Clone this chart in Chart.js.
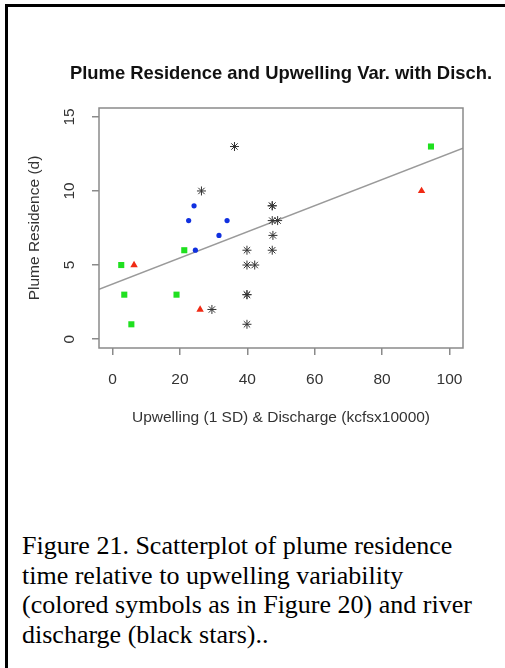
<!DOCTYPE html>
<html>
<head>
<meta charset="utf-8">
<script src="https://cdn.jsdelivr.net/npm/chart.js@4.4.1/dist/chart.umd.min.js"></script>
<style>
  html, body { margin: 0; padding: 0; background: #fff; }
  body { width: 505px; height: 668px; position: relative; overflow: hidden; }
  #frame { position: absolute; left: 5px; top: 4px; width: 520px; height: 700px;
           border-top: 3px solid #000; border-left: 3px solid #000; }
  #wrap { position: absolute; left: 0; top: 0; width: 505px; height: 460px; }
  #caption { position: absolute; left: 22px; top: 531px; width: 480px;
             font-family: "Liberation Serif", "Times New Roman", serif; font-size: 26px;
             line-height: 29.7px; color: #000; white-space: nowrap; }
</style>
</head>
<body>
<div id="frame"></div>
<div id="wrap"><canvas id="c" width="505" height="460"></canvas></div>
<div id="caption">Figure 21. Scatterplot of plume residence<br>time relative to upwelling variability<br>(colored symbols as in Figure 20) and river<br>discharge (black stars)..</div>
<script>
// ---- data ----
const titleText = "Plume Residence and Upwelling Var. with Disch.";
const xTitle = "Upwelling (1 SD) & Discharge (kcfsx10000)";
const yTitle = "Plume Residence (d)";
const xTicks = [0, 20, 40, 60, 80, 100];
const yTicks = [0, 5, 10, 15];

const greenX = [2.6, 3.5, 5.6, 19.0, 21.3, 94.5];
const greenY = [5, 3, 1, 3, 6, 13];
const redX = [6.4, 26.0, 91.7];
const redY = [5, 2, 10];
const blueX = [22.6, 24.2, 24.6, 31.6, 34.0];
const blueY = [8, 9, 6, 7, 8];
const starX = [36.2, 26.4, 29.5, 39.9, 39.9, 42.2, 39.9, 39.9, 39.9, 47.4, 47.4, 47.4, 49.0, 47.6, 47.4];
const starY = [13, 10, 2, 6, 5, 5, 3, 3, 1, 9, 9, 8, 8, 7, 6];
const fitX = [-4, 104];
const fitY = [3.37, 12.88];

const pts = (xs, ys) => xs.map((x, i) => ({ x: x, y: ys[i] }));

const FONT = "'Liberation Sans', Arial, Helvetica, sans-serif";
const AXIS_GRAY = '#8a8a8a';

const boxPlugin = {
  id: 'boxPlugin',
  afterDatasetsDraw(chart) {
    const { ctx, chartArea: a } = chart;
    ctx.save();
    ctx.strokeStyle = AXIS_GRAY;
    ctx.lineWidth = 1.5;
    ctx.strokeRect(a.left, a.top, a.right - a.left, a.bottom - a.top);
    // main title, centred over the plot region (R style)
    ctx.fillStyle = '#111';
    ctx.font = 'bold 18.4px ' + FONT;
    ctx.textAlign = 'center';
    ctx.textBaseline = 'alphabetic';
    ctx.fillText(titleText, (a.left + a.right) / 2, a.top - 29);
    // rotated y tick labels (R style)
    const ys = chart.scales.y;
    ctx.fillStyle = '#333';
    ctx.font = '15.5px ' + FONT;
    ctx.textAlign = 'center';
    ctx.textBaseline = 'middle';
    yTicks.forEach(v => {
      const py = ys.getPixelForValue(v);
      ctx.save();
      ctx.translate(a.left - 29, py);
      ctx.rotate(-Math.PI / 2);
      ctx.fillText(String(v), 0, 0);
      ctx.restore();
    });
    ctx.restore();
  }
};

new Chart(document.getElementById('c'), {
  type: 'scatter',
  data: {
    datasets: [
      { label: 'fit', type: 'line', data: pts(fitX, fitY), borderColor: '#9a9a9a', borderWidth: 1.5,
        pointRadius: 0, fill: false, order: 5 },
      { label: 'discharge', data: pts(starX, starY), pointStyle: 'star', pointRadius: 4.5,
        borderColor: '#333', backgroundColor: '#333', borderWidth: 1, order: 1 },
      { label: 'green', data: pts(greenX, greenY), pointStyle: 'rect', pointRadius: 4.3,
        backgroundColor: '#1fe01f', borderColor: '#1fe01f', borderWidth: 0, order: 2 },
      { label: 'red', data: pts(redX, redY), pointStyle: 'triangle', pointRadius: 4.3,
        backgroundColor: '#f02a14', borderColor: '#f02a14', borderWidth: 0, order: 3 },
      { label: 'blue', data: pts(blueX, blueY), pointStyle: 'circle', pointRadius: 2.6,
        backgroundColor: '#1030e0', borderColor: '#1030e0', borderWidth: 0, order: 4 }
    ]
  },
  options: {
    responsive: false,
    devicePixelRatio: 1,
    animation: false,
    events: [],
    layout: { padding: { left: 0, right: 42, top: 108, bottom: 0 } },
    plugins: {
      legend: { display: false },
      tooltip: { enabled: false },
      title: { display: false }
    },
    scales: {
      x: {
        type: 'linear', min: -4, max: 104,
        afterBuildTicks: s => { s.ticks = xTicks.map(v => ({ value: v })); },
        afterFit: s => { s.height = 112; },
        grid: { display: true, drawOnChartArea: false, drawTicks: true, tickLength: 7, color: AXIS_GRAY, lineWidth: 1.5 },
        border: { display: false },
        ticks: { color: '#333', font: { family: FONT, size: 15.5 }, padding: 15, maxRotation: 0 },
        title: { display: true, text: xTitle, color: '#333', font: { family: FONT, size: 15.5 }, padding: { top: 0, bottom: 33 } }
      },
      y: {
        type: 'linear', min: -0.6, max: 15.6,
        afterBuildTicks: s => { s.ticks = yTicks.map(v => ({ value: v })); },
        afterFit: s => { s.width = 99; },
        grid: { display: true, drawOnChartArea: false, drawTicks: true, tickLength: 7, color: AXIS_GRAY, lineWidth: 1.5 },
        border: { display: false },
        ticks: { display: false },
        title: { display: true, text: yTitle, color: '#333', font: { family: FONT, size: 15.5 }, padding: { top: 25, bottom: 0 } }
      }
    }
  },
  plugins: [boxPlugin]
});
</script>
</body>
</html>
